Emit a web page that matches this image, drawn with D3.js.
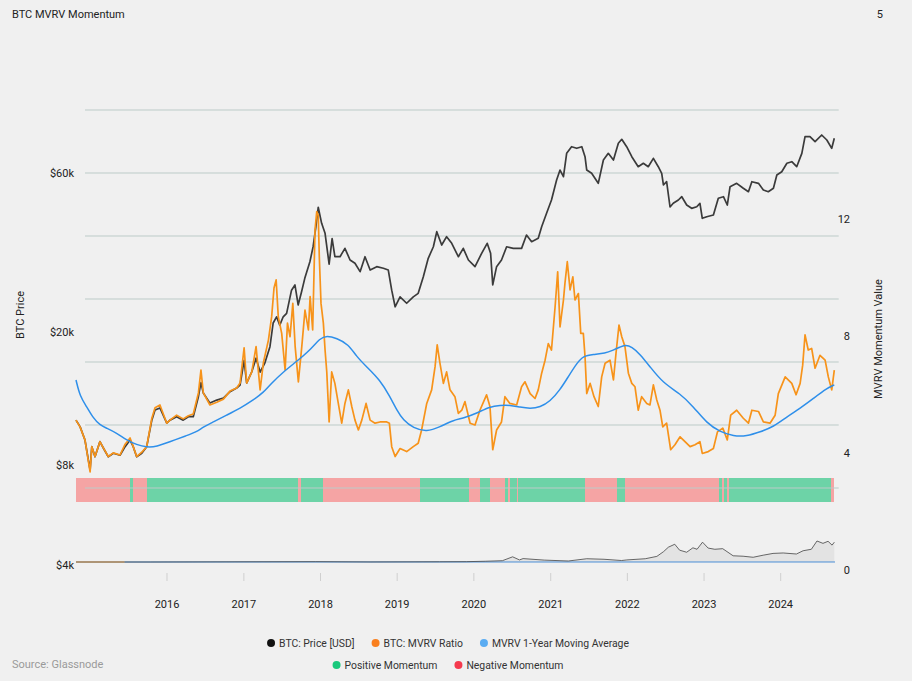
<!DOCTYPE html>
<html>
<head>
<meta charset="utf-8">
<title>BTC MVRV Momentum</title>
<style>
  body { margin: 0; background: #f0f0f0; }
  svg { display: block; font-family: Roboto, "Noto Sans", sans-serif; }
</style>
</head>
<body>
<script src="https://cdnjs.cloudflare.com/ajax/libs/d3/7.8.5/d3.min.js"></script>
<script>

var w = 912;
var h = 681;

// BTC price [USD]
var priceDates = ["2014-11-09","2014-11-28","2014-12-21","2015-01-14","2015-01-22","2015-02-06","2015-03-01","2015-03-17","2015-04-09","2015-05-03",
  "2015-06-03","2015-06-27","2015-07-20","2015-08-04","2015-08-20","2015-09-13","2015-10-06","2015-10-30","2015-11-14","2015-12-07",
  "2016-01-08","2016-01-23","2016-02-23","2016-03-25","2016-04-18","2016-05-11","2016-06-04","2016-06-16","2016-06-27","2016-07-28",
  "2016-08-29","2016-09-29","2016-10-30","2016-11-30","2016-12-16","2017-01-04","2017-01-16","2017-02-09","2017-03-01","2017-03-20",
  "2017-04-11","2017-05-05","2017-05-20","2017-06-05","2017-06-20","2017-07-06","2017-07-22","2017-08-14","2017-08-30","2017-09-14",
  "2017-09-30","2017-10-15","2017-11-08","2017-11-23","2017-12-06","2017-12-17","2018-01-02","2018-01-18","2018-02-06","2018-02-20",
  "2018-03-05","2018-03-29","2018-04-21","2018-05-15","2018-06-07","2018-07-01","2018-07-24","2018-08-17","2018-09-17","2018-10-18",
  "2018-11-10","2018-11-26","2018-12-12","2019-01-04","2019-02-04","2019-03-07","2019-03-30","2019-04-23","2019-05-16","2019-06-09",
  "2019-06-25","2019-07-18","2019-08-10","2019-09-03","2019-10-04","2019-10-27","2019-11-20","2019-12-21","2020-01-21","2020-02-16",
  "2020-03-03","2020-03-13","2020-03-31","2020-04-23","2020-05-17","2020-06-17","2020-07-26","2020-08-18","2020-09-11","2020-10-12",
  "2020-10-28","2020-11-20","2020-12-13","2021-01-06","2021-01-22","2021-02-07","2021-02-22","2021-03-17","2021-04-10","2021-05-04",
  "2021-05-19","2021-05-27","2021-06-19","2021-07-20","2021-08-13","2021-09-05","2021-09-29","2021-10-22","2021-11-07","2021-11-30",
  "2021-12-24","2022-01-23","2022-02-16","2022-03-11","2022-04-04","2022-04-27","2022-05-13","2022-05-21","2022-06-05","2022-06-21",
  "2022-07-06","2022-07-30","2022-08-15","2022-09-07","2022-09-30","2022-10-24","2022-11-08","2022-11-19","2022-12-10","2023-01-10",
  "2023-02-02","2023-02-26","2023-03-16","2023-03-29","2023-04-29","2023-05-30","2023-06-23","2023-07-09","2023-08-09","2023-09-01",
  "2023-09-24","2023-10-18","2023-11-03","2023-11-26","2023-12-20","2024-01-12","2024-02-04","2024-02-28","2024-03-14","2024-04-06",
  "2024-04-30","2024-05-31","2024-06-24","2024-07-17","2024-07-29"];
var priceValues = [405,360,282,163,250,208,274,244,208,222,
  214,250,282,250,208,222,250,405,487,505,
  384,405,431,405,431,431,620,800,663,552,
  583,605,679,726,767,1200,795,976,1250,970,
  1144,1538,2367,2650,2280,2650,2820,4300,4730,3285,
  4180,5330,7210,9470,13600,19400,14500,12090,6900,11000,
  7900,7900,9200,7440,7010,6020,7900,6200,6590,6400,
  6200,4300,3180,3810,3390,3810,4060,5490,7670,9470,
  12450,9770,11370,10080,7900,9200,7440,6590,8400,10080,
  8400,4730,6590,7440,9470,9200,9200,11720,10380,11040,
  13630,17390,22150,31860,38200,33830,51750,58360,56690,58360,
  48670,38200,36000,30000,45830,51750,45830,62090,66780,58360,
  48670,40580,43160,40580,47250,40580,36000,29100,30890,19500,
  20860,22150,23520,20220,19040,19600,20860,15880,16350,16860,
  22840,23520,20220,28200,30000,27400,25750,30890,30000,26560,
  25750,27400,34900,37050,43160,44450,40580,51750,70000,70000,
  63920,72200,65930,56690,68000];

// BTC: MVRV ratio
var mvrvDates = ["2014-11-09","2014-11-28","2014-12-21","2015-01-14","2015-01-22","2015-02-06","2015-03-01","2015-03-17","2015-04-09","2015-05-03",
  "2015-06-03","2015-06-27","2015-07-20","2015-08-04","2015-08-20","2015-09-13","2015-10-06","2015-10-30","2015-11-14","2015-12-07",
  "2016-01-08","2016-01-23","2016-02-23","2016-03-25","2016-04-18","2016-05-11","2016-06-04","2016-06-16","2016-06-27","2016-07-28",
  "2016-08-29","2016-09-29","2016-10-30","2016-11-30","2016-12-16","2017-01-04","2017-01-16","2017-02-09","2017-03-01","2017-03-20",
  "2017-04-04","2017-04-28","2017-05-13","2017-05-24","2017-06-03","2017-06-13","2017-06-29","2017-07-15","2017-07-26","2017-08-07",
  "2017-08-20","2017-08-31","2017-09-15","2017-10-01","2017-10-16","2017-11-01","2017-11-09","2017-11-21","2017-12-02","2017-12-10",
  "2017-12-17","2017-12-22","2017-12-30","2018-01-10","2018-01-18","2018-01-26","2018-02-06","2018-02-18","2018-03-05","2018-03-21",
  "2018-04-06","2018-04-21","2018-05-07","2018-05-23","2018-06-07","2018-06-23","2018-07-09","2018-07-29","2018-08-17","2018-09-09",
  "2018-10-02","2018-11-03","2018-11-15","2018-11-26","2018-12-12","2019-01-04","2019-02-04","2019-03-07","2019-03-30","2019-04-15",
  "2019-05-09","2019-06-01","2019-06-17","2019-06-27","2019-07-10","2019-07-26","2019-08-10","2019-08-26","2019-09-18","2019-10-04",
  "2019-10-20","2019-11-04","2019-11-28","2019-12-21","2020-01-13","2020-02-13","2020-02-29","2020-03-13","2020-03-31","2020-04-23",
  "2020-05-09","2020-06-01","2020-07-03","2020-07-26","2020-08-11","2020-09-04","2020-09-27","2020-10-12","2020-10-28","2020-11-13",
  "2020-11-28","2020-12-13","2020-12-30","2021-01-11","2021-01-22","2021-02-07","2021-02-14","2021-02-25","2021-03-10","2021-03-23",
  "2021-04-02","2021-04-18","2021-04-29","2021-05-11","2021-05-19","2021-05-27","2021-06-12","2021-06-30","2021-07-20","2021-08-05",
  "2021-08-21","2021-09-13","2021-09-29","2021-10-11","2021-10-25","2021-11-07","2021-11-22","2021-12-08","2021-12-24","2022-01-08",
  "2022-01-23","2022-02-08","2022-03-04","2022-03-19","2022-04-04","2022-04-20","2022-05-05","2022-05-18","2022-06-05","2022-06-24",
  "2022-07-14","2022-08-07","2022-08-30","2022-09-23","2022-10-16","2022-11-08","2022-11-19","2022-12-17","2023-01-10","2023-01-29",
  "2023-02-23","2023-03-16","2023-04-01","2023-04-29","2023-05-30","2023-06-23","2023-07-09","2023-08-09","2023-09-01","2023-10-02",
  "2023-10-26","2023-11-10","2023-12-12","2024-01-12","2024-02-01","2024-02-20","2024-03-03","2024-03-14","2024-03-29","2024-04-14",
  "2024-04-30","2024-05-23","2024-06-16","2024-07-01","2024-07-17","2024-07-29"];
var mvrvValues = [1.31,1.20,0.99,0.47,0.88,0.72,0.96,0.86,0.72,0.78,
  0.745,0.92,1.02,0.88,0.72,0.79,0.88,1.34,1.51,1.555,
  1.26,1.31,1.39,1.33,1.38,1.41,1.75,2.12,1.75,1.555,
  1.60,1.65,1.78,1.83,1.91,2.48,1.91,2.09,2.50,1.80,
  2.235,2.61,2.985,3.45,3.58,2.985,2.715,2.12,2.88,2.66,
  3.20,2.50,1.93,2.50,3.09,2.77,3.31,2.77,4.39,4.685,
  4.63,3.96,3.20,2.88,2.445,2.09,1.28,2.09,1.905,1.58,
  1.26,1.58,1.80,1.53,1.31,1.15,1.31,1.58,1.31,1.26,
  1.28,1.28,1.26,0.88,0.72,0.85,0.80,0.88,0.935,1.15,
  1.58,1.80,2.175,2.53,2.23,1.905,2.09,1.80,1.69,1.42,
  1.47,1.61,1.26,1.23,1.47,1.72,1.53,0.83,1.15,1.28,
  1.69,1.58,1.555,1.85,1.93,1.74,1.66,1.80,2.07,2.28,
  2.55,2.445,3.15,3.71,2.82,3.255,3.525,3.875,3.42,3.63,
  3.255,3.36,2.715,2.715,2.34,1.74,1.905,1.69,1.53,2.01,
  2.23,2.28,1.96,2.39,2.85,2.66,2.50,2.07,1.905,1.85,
  1.47,1.69,1.58,1.555,1.88,1.635,1.47,1.20,1.26,0.83,
  0.91,1.04,0.96,0.88,0.91,0.96,0.77,0.80,0.85,1.12,
  1.18,0.99,1.39,1.47,1.34,1.26,1.47,1.45,1.28,1.26,
  1.39,1.74,2.01,1.905,1.72,1.905,2.20,2.69,2.445,2.47,
  2.15,2.36,2.28,2.01,1.80,2.12];

// MVRV 1-year moving average
var maDates = ["2014-11-09","2014-11-28","2014-12-29","2015-01-29","2015-03-01","2015-04-01","2015-05-18","2015-07-03","2015-08-20","2015-10-06",
  "2015-11-21","2016-01-23","2016-04-10","2016-05-27","2016-06-27","2016-08-13","2016-10-14","2016-12-16","2017-02-16","2017-04-04",
  "2017-05-08","2017-07-06","2017-09-07","2017-11-09","2017-12-25","2018-01-26","2018-03-13","2018-05-07","2018-06-14","2018-07-31",
  "2018-10-02","2018-11-18","2018-12-20","2019-01-19","2019-03-07","2019-05-09","2019-07-10","2019-09-10","2019-10-27","2019-12-29",
  "2020-02-29","2020-04-16","2020-06-01","2020-07-19","2020-09-04","2020-10-21","2020-12-06","2021-01-22","2021-03-01","2021-04-10",
  "2021-05-11","2021-06-26","2021-08-21","2021-09-29","2021-10-29","2021-11-22","2021-12-24","2022-01-31","2022-03-19","2022-05-21",
  "2022-08-07","2022-10-08","2022-12-10","2023-02-10","2023-04-14","2023-06-15","2023-08-17","2023-10-18","2023-12-20","2024-02-20",
  "2024-04-22","2024-06-24","2024-07-29"];
var maValues = [1.96,1.69,1.53,1.34,1.23,1.18,1.10,0.99,0.91,0.87,
  0.88,0.96,1.06,1.12,1.20,1.28,1.39,1.50,1.635,1.755,
  1.895,2.09,2.26,2.445,2.635,2.68,2.635,2.54,2.34,2.175,
  1.96,1.69,1.47,1.31,1.18,1.12,1.20,1.31,1.34,1.42,
  1.53,1.55,1.555,1.52,1.495,1.52,1.61,1.80,2.01,2.23,
  2.35,2.375,2.39,2.445,2.49,2.53,2.50,2.38,2.175,1.905,
  1.74,1.53,1.26,1.12,1.05,1.05,1.12,1.20,1.365,1.50,
  1.66,1.825,1.88];

// momentum: start of each run and its sign (1 positive, -1 negative)
var momentumStarts = ["2014-11-09","2015-07-20","2015-08-03","2015-10-09","2017-09-15","2017-09-27","2018-01-10","2019-04-07","2019-11-24","2020-01-13",
  "2020-02-29","2020-05-09","2020-05-15","2020-05-25","2020-06-01","2020-07-03","2020-07-09","2021-05-19","2021-10-15","2021-11-22",
  "2023-02-07","2023-02-18","2023-03-01","2023-03-13","2023-03-22","2024-07-14"];
var momentumSigns = [-1,1,-1,1,-1,1,-1,1,-1,1,
  -1,1,1,-1,1,-1,1,-1,1,-1,
  1,-1,1,-1,1,-1];
var momentumEnd = "2024-07-29";

// navigator (full history)
var navDates = ["2009-01-03","2010-07-17","2013-12-04","2015-01-14","2016-06-17","2017-01-04","2017-05-25","2017-10-01","2017-12-17","2018-02-06",
  "2018-03-05","2018-08-10","2019-02-07","2019-06-25","2019-11-01","2020-03-12","2020-04-20","2020-09-05","2020-12-01","2021-01-20",
  "2021-02-25","2021-04-14","2021-05-20","2021-07-12","2021-08-28","2021-09-28","2021-11-08","2021-12-20","2022-02-08","2022-04-08",
  "2022-06-25","2022-09-08","2022-11-22","2023-02-05","2023-04-20","2023-07-05","2023-10-12","2023-12-01","2024-02-01","2024-03-14",
  "2024-04-28","2024-06-05","2024-07-05","2024-07-22"];
var navValues = [0,0.05,1150,170,760,1150,2500,4400,17500,7000,
  11500,6400,3400,11000,9200,5000,7000,11000,19000,35000,
  50000,60000,40000,33000,48000,43000,67000,47000,43000,45000,
  21000,19500,16000,23000,29000,30500,27000,38000,43000,71000,
  63000,70000,57000,67000];
var navRatioDates = ["2009-01-03","2010-01-01"];
var navRatioValues = [1.0,1.0];
var navMaDates = ["2010-01-01","2024-07-27"];
var navMaValues = [1.0,1.9];

// axis labels
var yearTicks = ["2016","2017","2018","2019","2020","2021","2022","2023","2024"];
var priceTicks = [4000,8000,20000,60000];
var momentumTicks = [0,4,8,12];

var parse = d3.utcParse("%Y-%m-%d");

var svg = d3.select("body").append("svg")
  .attr("width", w)
  .attr("height", h);

svg.append("rect").attr("width", w).attr("height", h).attr("fill", "#f0f0f0");

// scales
var x = d3.scaleUtc()
  .domain([parse("2014-11-09"), parse("2024-07-29")])
  .range([76, 834.3]);

var xTicks = d3.scaleUtc()
  .domain([parse("2016-01-01"), parse("2024-01-01")])
  .range([167, 780.7]);

var xNav = d3.scaleUtc()
  .domain([parse("2009-01-03"), parse("2024-07-27")])
  .range([76, 835]);

var yPrice = d3.scaleLog().domain([93.1, 113750]).range([501, 110]);
var yMvrv = d3.scaleLinear().domain([0, 6.332]).range([501, 110]);
var yNav = d3.scaleLinear().domain([0, 73000]).range([562, 540.4]);
var yLeft = d3.scaleLog().domain([4000, 60000]).range([565, 173]);
var yRight = d3.scaleLinear().domain([0, 15.75]).range([570, 110]);
var yGrid = d3.scaleLinear().domain([0, 6]).range([488, 110]);

// title
svg.append("text")
  .attr("x", 12).attr("y", 18)
  .attr("font-size", "11px").attr("fill", "#222")
  .text("BTC MVRV Momentum");
svg.append("text")
  .attr("x", 883).attr("y", 18)
  .attr("text-anchor", "end")
  .attr("font-size", "11px").attr("fill", "#222")
  .text("5");

// momentum band
var bandData = momentumStarts.map(function(d, i) {
  return {
    start: parse(d),
    end: parse(i < momentumStarts.length - 1 ? momentumStarts[i + 1] : momentumEnd),
    sign: momentumSigns[i]
  };
});

svg.append("g").selectAll("rect")
  .data(bandData)
  .enter()
  .append("rect")
  .attr("x", function(d) { return x(d.start); })
  .attr("y", 478)
  .attr("width", function(d) { return Math.max(0.5, x(d.end) - x(d.start)); })
  .attr("height", 24)
  .attr("fill", function(d) { return d.sign > 0 ? "#6dd3a7" : "#f5a4a4"; })
  .attr("shape-rendering", "crispEdges");

// gridlines
svg.append("g").selectAll("line")
  .data(yGrid.ticks(6))
  .enter()
  .append("line")
  .attr("x1", 85).attr("x2", 838.7)
  .attr("y1", function(d) { return yGrid(d); })
  .attr("y2", function(d) { return yGrid(d); })
  .attr("stroke", "#bccbc8")
  .attr("stroke-width", 1);

// lines
function series(dates, values) {
  return dates.map(function(d, i) { return { date: parse(d), value: values[i] }; });
}

var priceLine = d3.line()
  .x(function(d) { return x(d.date); })
  .y(function(d) { return yPrice(d.value); });

var mvrvLine = d3.line()
  .x(function(d) { return x(d.date); })
  .y(function(d) { return yMvrv(d.value); });

var maLine = d3.line()
  .curve(d3.curveBasis)
  .x(function(d) { return x(d.date); })
  .y(function(d) { return yMvrv(d.value); });

svg.append("path")
  .datum(series(priceDates, priceValues))
  .attr("d", priceLine)
  .attr("fill", "none")
  .attr("stroke", "#3b3b3b")
  .attr("stroke-width", 1.7)
  .attr("stroke-linejoin", "round");

svg.append("path")
  .datum(series(mvrvDates, mvrvValues))
  .attr("d", mvrvLine)
  .attr("fill", "none")
  .attr("stroke", "#f7931a")
  .attr("stroke-width", 1.7)
  .attr("stroke-linejoin", "round");

svg.append("path")
  .datum(series(maDates, maValues))
  .attr("d", maLine)
  .attr("fill", "none")
  .attr("stroke", "#2e8fea")
  .attr("stroke-width", 1.5);

// navigator
var navData = series(navDates, navValues);

svg.append("path")
  .datum(navData)
  .attr("d", d3.area()
    .x(function(d) { return xNav(d.date); })
    .y0(yNav(0))
    .y1(function(d) { return yNav(d.value); }))
  .attr("fill", "#e3e3e3");

svg.append("path")
  .datum(series(navMaDates, navMaValues))
  .attr("d", d3.line()
    .x(function(d) { return xNav(d.date); })
    .y(function(d) { return yNav(d.value); }))
  .attr("fill", "none")
  .attr("stroke", "#4a8fd6")
  .attr("stroke-width", 1);

svg.append("path")
  .datum(series(navRatioDates, navRatioValues))
  .attr("d", d3.line()
    .x(function(d) { return xNav(d.date); })
    .y(function(d) { return yNav(d.value); }))
  .attr("fill", "none")
  .attr("stroke", "#f7a640")
  .attr("stroke-width", 1);

svg.append("path")
  .datum(navData)
  .attr("d", d3.line()
    .x(function(d) { return xNav(d.date); })
    .y(function(d) { return yNav(d.value); }))
  .attr("fill", "none")
  .attr("stroke", "#444")
  .attr("stroke-width", 0.8);

// x axis ticks and labels
var years = yearTicks.map(function(d) { return parse(d + "-01-01"); });

svg.append("g").selectAll("line")
  .data(years)
  .enter()
  .append("line")
  .attr("x1", function(d) { return xTicks(d); })
  .attr("x2", function(d) { return xTicks(d); })
  .attr("y1", 573).attr("y2", 581)
  .attr("stroke", "#cfcfcf");

svg.append("g").selectAll("text")
  .data(years)
  .enter()
  .append("text")
  .attr("x", function(d) { return xTicks(d); })
  .attr("y", 608)
  .attr("text-anchor", "middle")
  .attr("font-size", "11px")
  .attr("fill", "#222")
  .text(function(d) { return d3.utcFormat("%Y")(d); });

// left axis
svg.append("g").selectAll("text")
  .data(priceTicks)
  .enter()
  .append("text")
  .attr("x", 74)
  .attr("y", function(d) { return yLeft(d); })
  .attr("dy", "0.35em")
  .attr("text-anchor", "end")
  .attr("font-size", "11px")
  .attr("fill", "#222")
  .text(function(d) { return "$" + (d / 1000) + "k"; });

svg.append("text")
  .attr("transform", "translate(24,315) rotate(-90)")
  .attr("text-anchor", "middle")
  .attr("font-size", "11px")
  .attr("fill", "#222")
  .text("BTC Price");

// right axis
svg.append("g").selectAll("text")
  .data(momentumTicks)
  .enter()
  .append("text")
  .attr("x", 850)
  .attr("y", function(d) { return yRight(d); })
  .attr("dy", "0.35em")
  .attr("text-anchor", "end")
  .attr("font-size", "11px")
  .attr("fill", "#222")
  .text(function(d) { return d; });

svg.append("text")
  .attr("transform", "translate(882,339) rotate(-90)")
  .attr("text-anchor", "middle")
  .attr("font-size", "11px")
  .attr("fill", "#222")
  .text("MVRV Momentum Value");

// legend
var legendRows = [
  [{ label: "BTC: Price [USD]", color: "#111111" },
   { label: "BTC: MVRV Ratio", color: "#f97f1e" },
   { label: "MVRV 1-Year Moving Average", color: "#5aacf2" }],
  [{ label: "Positive Momentum", color: "#19c97c" },
   { label: "Negative Momentum", color: "#f53a4e" }]
];
var legendY = [643, 665];

legendRows.forEach(function(row, r) {
  var g = svg.append("g");
  var cx = 0;
  row.forEach(function(item) {
    g.append("circle")
      .attr("cx", cx + 4).attr("cy", 0).attr("r", 4)
      .attr("fill", item.color);
    var t = g.append("text")
      .attr("x", cx + 12).attr("y", 0).attr("dy", "0.35em")
      .attr("font-size", "10.4px").attr("fill", "#333")
      .text(item.label);
    cx += 12 + t.node().getComputedTextLength() + 17;
  });
  var width = cx - 17;
  g.attr("transform", "translate(" + (448 - width / 2) + "," + legendY[r] + ")");
});

svg.append("text")
  .attr("x", 12).attr("y", 668)
  .attr("font-size", "11px")
  .attr("fill", "#9a9a9a")
  .text("Source: Glassnode");

</script>
</body>
</html>
